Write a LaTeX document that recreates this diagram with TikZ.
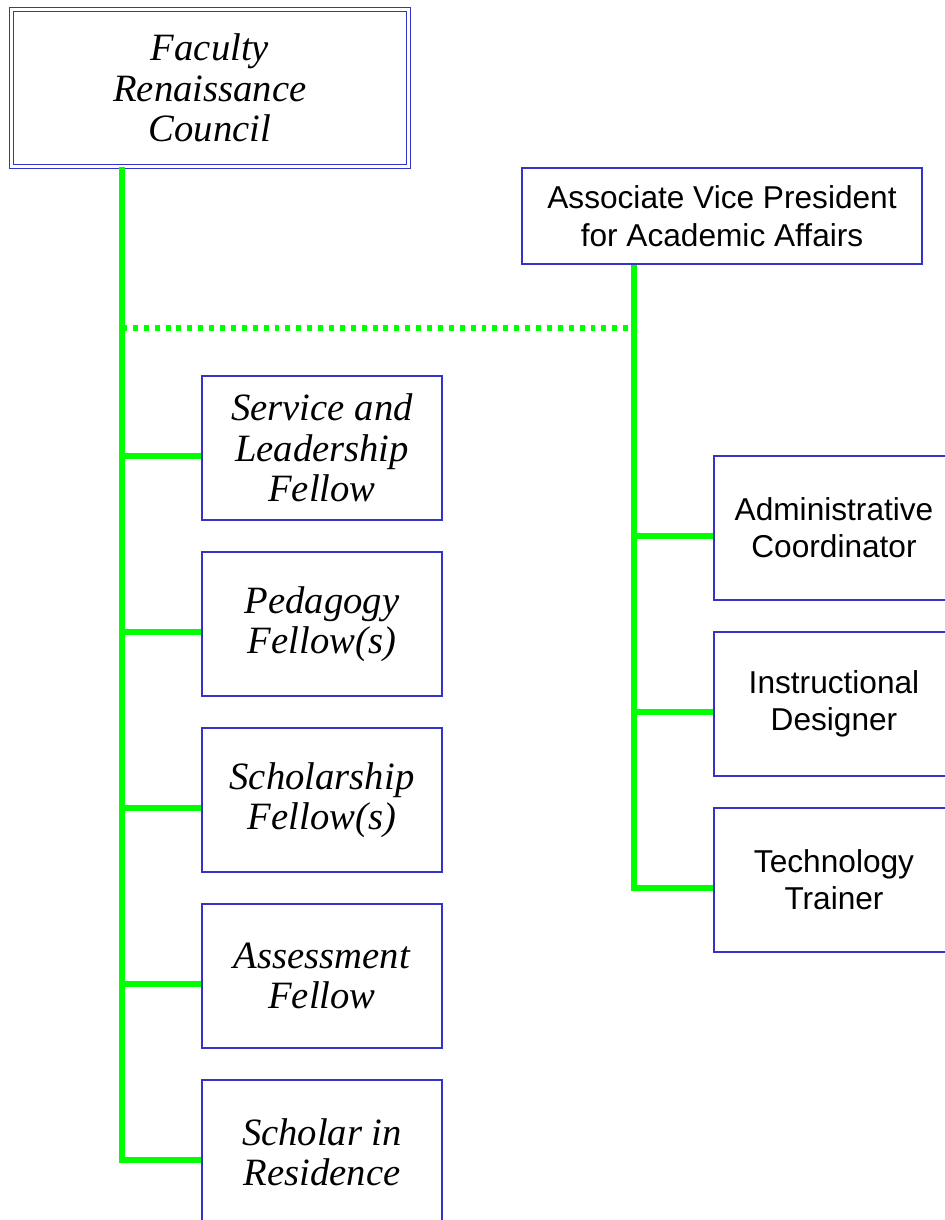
\documentclass[tikz,border=0pt]{standalone}
\usepackage{fontspec}
\setmainfont{Liberation Serif}
\newfontfamily\arialfont{Liberation Sans}
\usepackage{xcolor}
\usepackage{tikz}
\usetikzlibrary{positioning, calc}

\definecolor{boxblue}{RGB}{51,51,204}
\definecolor{linkgreen}{RGB}{0,255,0}

\begin{document}
\begin{tikzpicture}[
    council/.style={rectangle,draw=boxblue,double,double distance=1.2pt,line width=1pt,
                    minimum width=7.94cm,minimum height=3.14cm,align=center,
                    font=\fontsize{22}{23}\selectfont\itshape},
    fellow/.style={rectangle,draw=boxblue,line width=1.1pt,fill=white,
                   minimum width=4.8cm,minimum height=2.88cm,align=center,
                   font=\fontsize{22}{23}\selectfont\itshape},
    staff/.style={rectangle,draw=boxblue,line width=1.1pt,fill=white,
                  minimum width=4.8cm,minimum height=2.88cm,align=center,
                  font=\arialfont\fontsize{18}{21}\selectfont},
    link/.style={draw=linkgreen,line width=2.9pt},
    liaison/.style={draw=linkgreen,line width=2.9pt,dash pattern=on 2.8pt off 3.4pt}
]
\useasboundingbox (0,0) rectangle (18.88,-24.4);

%--------------------------------------------------------------------
% Top: council and the associate vice president
%--------------------------------------------------------------------
\node[council] (frc) at (4.2,-1.76) {Faculty\\Renaissance\\Council};

\node[staff,minimum width=8cm,minimum height=1.92cm,
      font=\arialfont\fontsize{18}{21.5}\selectfont] (avp) at (14.44,-4.32)
      {Associate Vice President\\for Academic Affairs};

%--------------------------------------------------------------------
% Left column: fellows
%--------------------------------------------------------------------
\node[fellow] (slf) at (6.44,-8.96)  {Service and\\Leadership\\Fellow};
\node[fellow] (pf)  at (6.44,-12.48) {Pedagogy\\Fellow(s)};
\node[fellow] (sf)  at (6.44,-16.0)  {Scholarship\\Fellow(s)};
\node[fellow] (af)  at (6.44,-19.52) {Assessment\\Fellow};
\node[fellow] (sir) at (6.44,-23.04) {Scholar in\\Residence};

%--------------------------------------------------------------------
% Right column: staff
%--------------------------------------------------------------------
\node[staff] (ac) at (16.68,-10.56) {Administrative\\Coordinator};
\node[staff] (id) at (16.68,-14.08) {Instructional\\Designer};
\node[staff] (tt) at (16.68,-17.6)  {Technology\\Trainer};

% trunk lines
\coordinate (lt) at (2.44,0);
\coordinate (rt) at (12.68,0);

\draw[link] (frc.south -| lt) -- ([yshift=-1.6mm]sir.west -| lt) -- ([yshift=-1.6mm]sir.west);
\foreach \f in {slf,pf,sf,af}
  \draw[link] ([yshift=-1.6mm]\f.west -| lt) -- ([yshift=-1.6mm]\f.west);

\draw[link] (avp.south -| rt) -- ([yshift=-1.6mm]tt.west -| rt) -- ([yshift=-1.6mm]tt.west);
\foreach \s in {ac,id}
  \draw[link] ([yshift=-1.6mm]\s.west -| rt) -- ([yshift=-1.6mm]\s.west);

% dotted tie between the two trunks
\draw[liaison] ($(lt)+(0,-6.56)$) -- ($(rt)+(0,-6.56)$);

\end{tikzpicture}
\end{document}
